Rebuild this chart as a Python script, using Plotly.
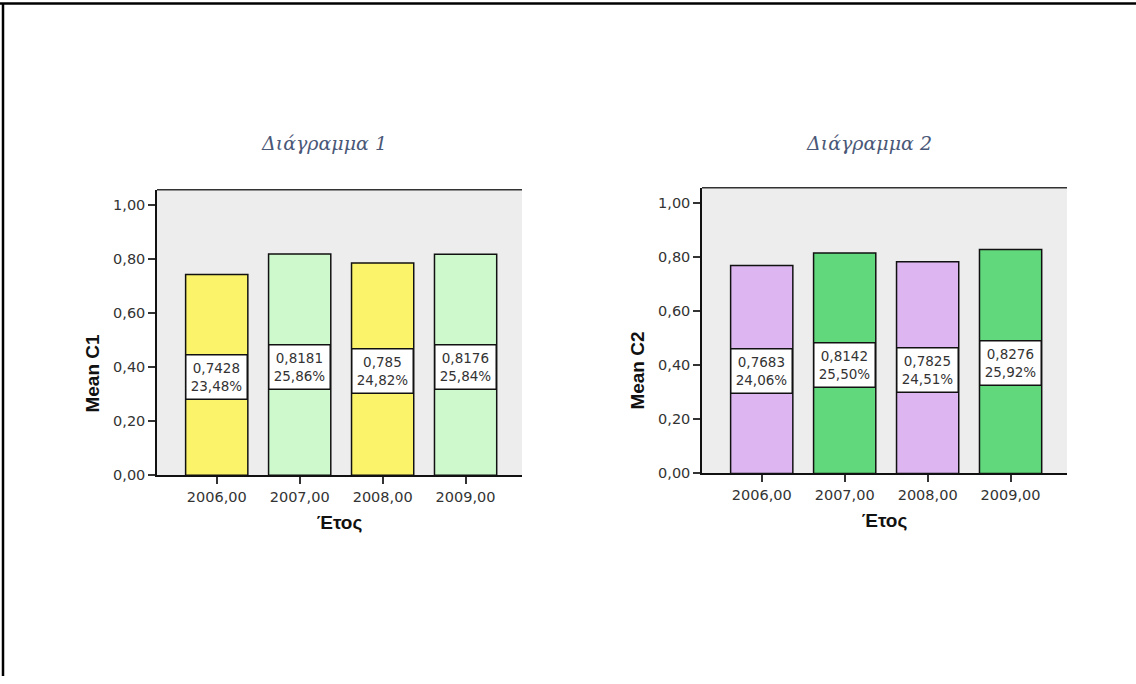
import plotly.graph_objects as go

# Mean values per year for the two indicators
years = ["2006,00", "2007,00", "2008,00", "2009,00"]
mean_c1 = [0.7428, 0.8181, 0.785, 0.8176]
mean_c2 = [0.7683, 0.8142, 0.7825, 0.8276]
share_c1 = ["23,48%", "25,86%", "24,82%", "25,84%"]
share_c2 = ["24,06%", "25,50%", "24,51%", "25,92%"]
colors_c1 = ["#fbf36a", "#cdf9cd", "#fbf36a", "#cdf9cd"]
colors_c2 = ["#dcb5f1", "#60d87b", "#dcb5f1", "#60d87b"]
titles = ["Διάγραμμα 1", "Διάγραμμα 2"]
y_titles = ["Mean C1", "Mean C2"]
y_ticks = [0, 0.2, 0.4, 0.6, 0.8, 1.0]

W, H = 1136, 684
SANS = "DejaVu Sans, Arial, sans-serif"


def px_x(p):
    return p / W


def px_y(p):
    return (H - p) / H


panels = [
    dict(vals=mean_c1, shares=share_c1, colors=colors_c1,
         xl=157, xr=522, yt=192, yb=481, ytitle_y=378, ytitle_x=93),
    dict(vals=mean_c2, shares=share_c2, colors=colors_c2,
         xl=702, xr=1067, yt=190, yb=479, ytitle_y=375, ytitle_x=638),
]

fig = go.Figure()
annotations = []
layout_axes = {}

for i, p in enumerate(panels):
    xa = "x" if i == 0 else "x2"
    ya = "y" if i == 0 else "y2"
    fig.add_trace(go.Bar(
        x=years, y=p["vals"], xaxis=xa, yaxis=ya,
        width=0.75,
        marker=dict(color=p["colors"], line=dict(color="#111111", width=1.5)),
        hoverinfo="skip", showlegend=False,
    ))
    for yr, v, s in zip(years, p["vals"], p["shares"]):
        annotations.append(dict(
            x=yr, y=v / 2, xref=xa, yref=ya, yshift=-2,
            text=f"{v:.4f}".rstrip("0").replace(".", ",") + "<br>" + s,
            showarrow=False, bgcolor="white", bordercolor="#111111",
            borderwidth=1.5, borderpad=2, width=56, height=39,
            font=dict(family=SANS, size=13.5, color="#333333"),
        ))
    suffix = "" if i == 0 else "2"
    layout_axes["xaxis" + suffix] = dict(
        domain=[px_x(p["xl"]), px_x(p["xr"])],
        anchor=ya, range=[-0.72, 3.68],
        showline=True, linecolor="#111111", linewidth=1.5, mirror=False,
        ticks="outside", ticklen=7, tickcolor="#333333", tickwidth=1.5,
        tickfont=dict(family=SANS, size=14.5, color="#333333"),
        title=dict(text="<b>Έτος</b>", standoff=12,
                   font=dict(family="Arial, Liberation Sans", size=19, color="#111111")),
        showgrid=False, fixedrange=True,
    )
    layout_axes["yaxis" + suffix] = dict(
        domain=[px_y(p["yb"]), px_y(p["yt"])],
        anchor=xa, range=[0, 1.0556],
        tickvals=y_ticks, tickformat=".2f",
        showline=True, linecolor="#111111", linewidth=1.5,
        ticks="outside", ticklen=7, tickcolor="#333333", tickwidth=1.5,
        tickfont=dict(family=SANS, size=14.5, color="#333333"),
        showgrid=False, zeroline=False, fixedrange=True,
    )
    # y-axis title
    annotations.append(dict(
        x=px_x(p["ytitle_x"]), y=px_y(p["ytitle_y"]), xref="paper", yref="paper",
        text="<b>" + y_titles[i] + "</b>", textangle=-90, showarrow=False,
        xanchor="center", yanchor="middle",
        font=dict(family="Arial, Liberation Sans", size=19, color="#111111"),
    ))
    # panel top edge
    fig.add_shape(type="line", xref="paper", yref="paper",
                  x0=px_x(p["xl"]), x1=px_x(p["xr"]),
                  y0=px_y(p["yt"]), y1=px_y(p["yt"]),
                  line=dict(color="#333333", width=1.5))
    # panel background
    fig.add_shape(type="rect", xref="paper", yref="paper", layer="below",
                  x0=px_x(p["xl"]), x1=px_x(p["xr"]),
                  y0=px_y(p["yb"]), y1=px_y(p["yt"]),
                  fillcolor="#ededed", line=dict(width=0))
    # chart title
    annotations.append(dict(
        x=px_x(p["xl"] + 167), y=px_y(145), xref="paper", yref="paper",
        xanchor="center", yanchor="middle",
        text="<i>" + titles[i] + "</i>", showarrow=False,
        font=dict(family="DejaVu Serif, serif", size=19, color="#4a5878"),
    ))

# outer frame (top and left edges)
fig.add_shape(type="line", xref="paper", yref="paper", x0=0, x1=1, y0=px_y(3.5), y1=px_y(3.5),
              line=dict(color="#000000", width=2.5))
fig.add_shape(type="line", xref="paper", yref="paper", x0=px_x(3), x1=px_x(3), y0=0, y1=px_y(3),
              line=dict(color="#000000", width=2.5))

fig.update_layout(
    width=W, height=H,
    margin=dict(l=0, r=0, t=0, b=0),
    paper_bgcolor="white", plot_bgcolor="rgba(0,0,0,0)",
    separators=",.",
    annotations=annotations,
    **layout_axes,
)

fig.write_html("out.html")
